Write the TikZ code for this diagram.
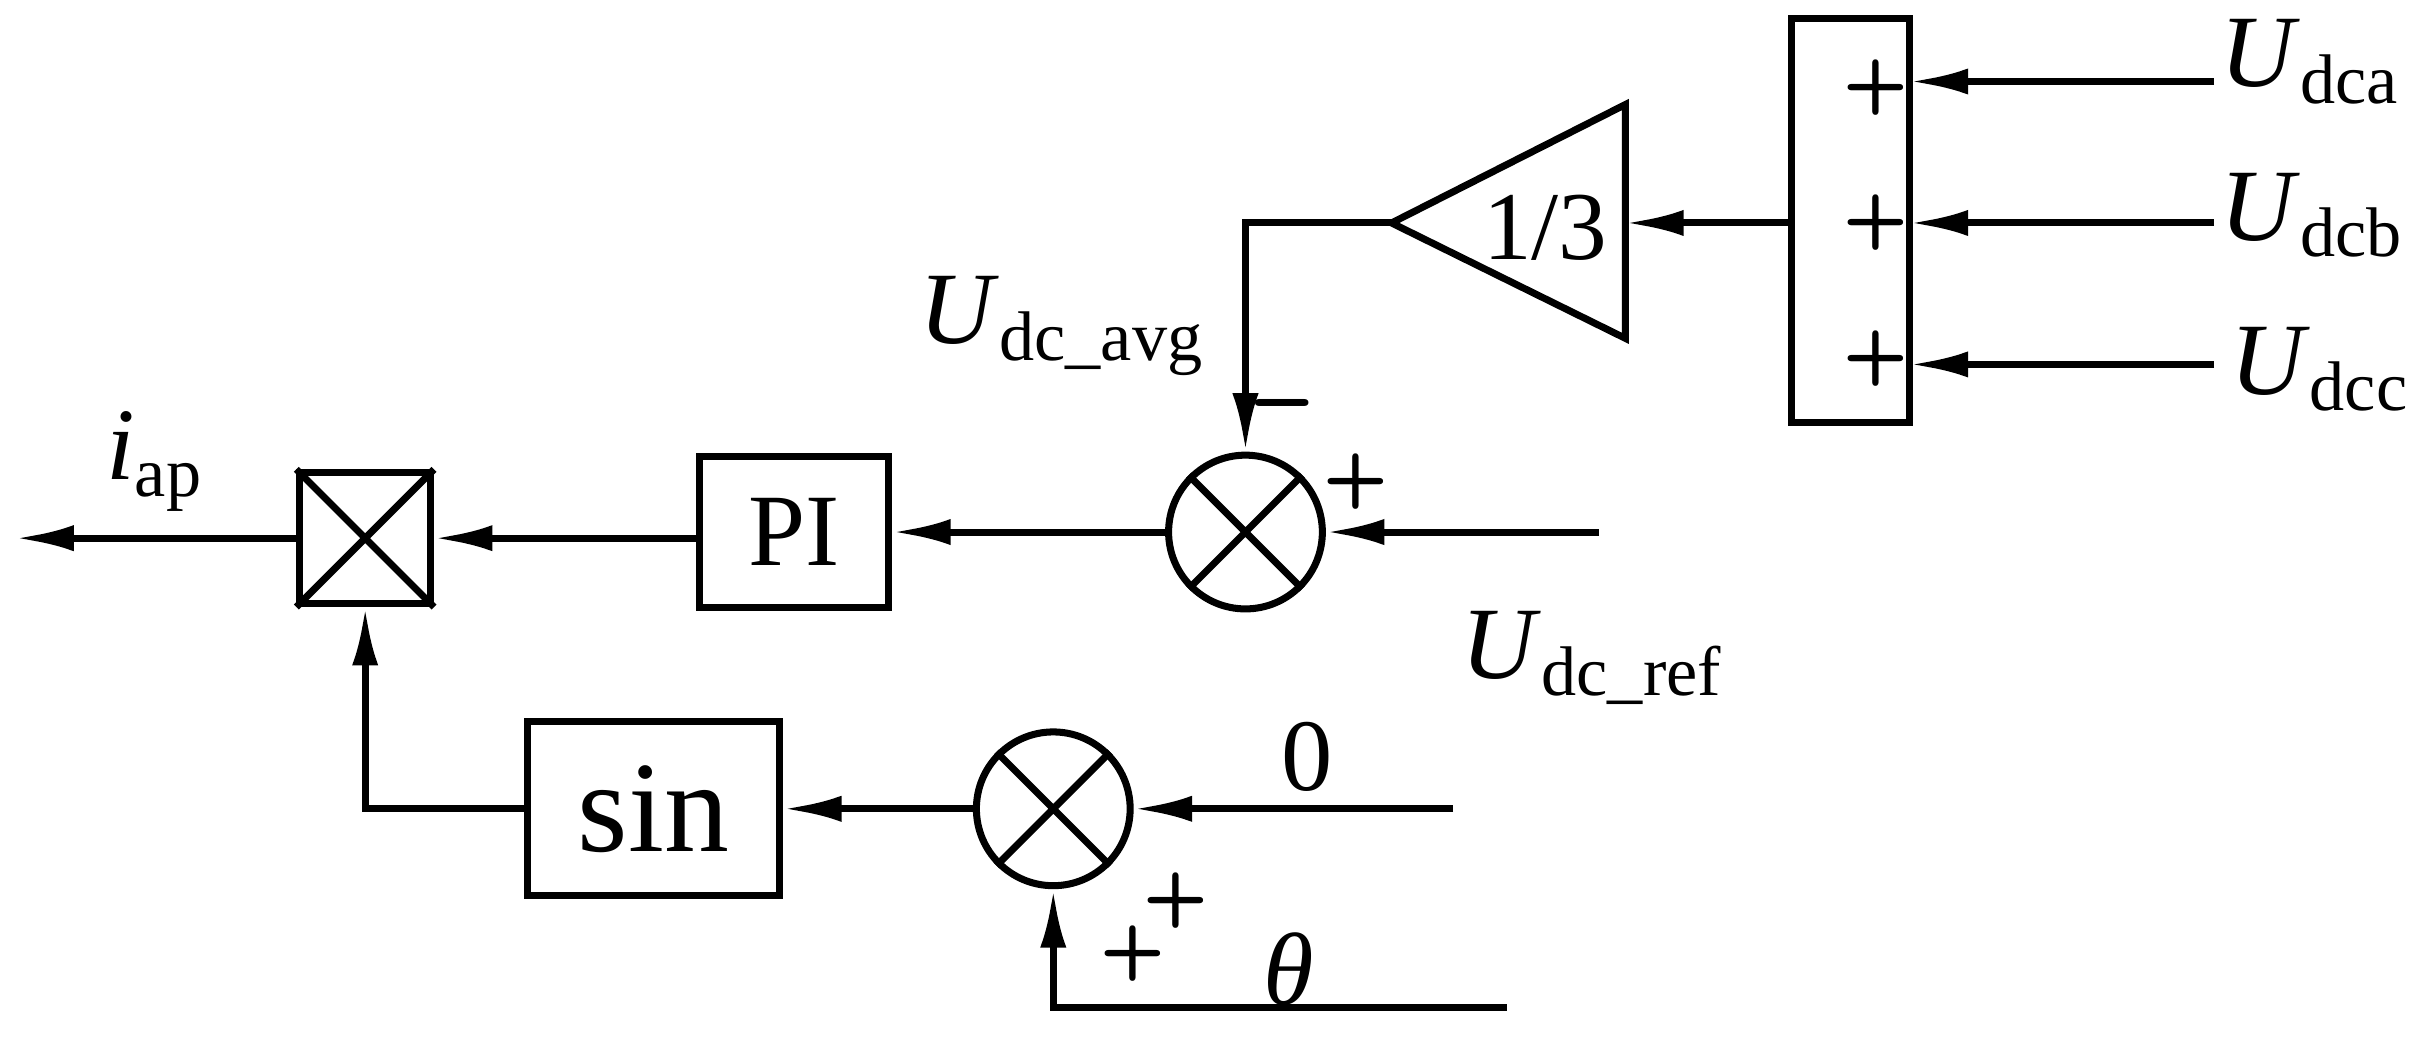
\documentclass[tikz,border=0pt]{standalone}
\usepackage{fontspec}
\setmainfont{Liberation Serif}
\usetikzlibrary{arrows.meta}
\newcommand{\Sub}[2]{\textit{#1}\raisebox{-0.35ex}{\fontsize{13}{14}\selectfont #2}}
\begin{document}
\begin{tikzpicture}[x=0.1mm,y=-0.1mm,line width=1.3pt,
  arr/.style={-{Latex[length=3.8mm,width=1.7mm]}},
  blk/.style={draw,line width=1.3pt},
  lab/.style={font=\fontsize{19}{22}\selectfont,inner sep=0},
  sg/.style={font=\sffamily\bfseries\fontsize{14}{15}\selectfont,inner sep=0}]
\useasboundingbox (0,0) rectangle (1568,680);
% sum box
\node[blk,minimum width=7.7mm,minimum height=26.3mm,inner sep=0] (S) at (1203.5,143.5) {};
\node[sg] (p1) at (1220,57) {+};
\node[sg] (p2) at (1220,145) {+};
\node[sg] (p3) at (1220,233) {+};
\coordinate (ia) at (1440,53); \coordinate (ib) at (1440,145); \coordinate (ic) at (1440,237);
\coordinate (sa) at (1242,53); \coordinate (sb) at (1242,145); \coordinate (sc) at (1242,237);
\draw[arr] (ia) -- (sa);
\draw[arr] (ib) -- (sb);
\draw[arr] (ic) -- (sc);
\node[lab,anchor=west] (la) at (1442,40) {\Sub{U}{dca}};
\node[lab,anchor=west] (lb) at (1442,140) {\Sub{U}{dcb}};
\node[lab,anchor=west] (lc) at (1448,240) {\Sub{U}{dcc}};
% gain triangle
\coordinate (tA) at (905,145); \coordinate (tB) at (1057,68); \coordinate (tC) at (1057,220);
\draw (tA) -- (tB) -- (tC) -- cycle;
\node[font=\fontsize{18}{20}\selectfont,inner sep=0] (g) at (1005,148) {1/3};
\coordinate (tR) at (1057,145); \coordinate (sL) at (1165,145);
\draw[arr] (sL) -- (tR);
% summer 1
\node[draw,circle,minimum size=10mm,inner sep=0] (C1) at (810,346) {};
\draw (C1.45) -- (C1.225) (C1.135) -- (C1.315);
\draw[arr] (tA) -| (C1.north);
\node[lab] (lavg) at (690,212) {\Sub{U}{dc\_avg}};
\node[font=\sffamily\bfseries\fontsize{18}{18}\selectfont,inner sep=0] (mn) at (834,270) {--};
\node[sg] (pp) at (882,313) {+};
\coordinate (ref) at (1040,346);
\draw[arr] (ref) -- (C1.east);
\node[lab] (lref) at (1035,428) {\Sub{U}{dc\_ref}};
% PI
\node[blk,minimum width=12.3mm,minimum height=9.8mm,inner sep=0,font=\fontsize{19}{22}\selectfont] (PI) at (516.5,346) {PI};
\draw[arr] (C1.west) -- (PI.east);
% multiplier
\node[blk,minimum width=8.5mm,minimum height=8.5mm,inner sep=0] (M) at (237.5,350) {};
\draw (M.north west) -- (M.south east) (M.north east) -- (M.south west);
\draw[arr] (PI.west |- M.east) -- (M.east);
\coordinate (out) at (10,350);
\draw[arr] (M.west) -- (out);
\node[lab] (lap) at (100,300) {\Sub{i}{ap}};
% summer 2
\node[draw,circle,minimum size=10mm,inner sep=0] (C2) at (685,526) {};
\draw (C2.45) -- (C2.225) (C2.135) -- (C2.315);
\coordinate (z) at (945,526);
\draw[arr] (z) -- (C2.east);
\node[lab] (l0) at (850,492) {0};
\coordinate (th) at (980,655);
\draw[arr] (th) -| (C2.south);
\node[lab] (lth) at (838,630) {\textit{θ}};
\node[sg] (q1) at (737,620) {+};
\node[sg] (q2) at (765,586) {+};
% sin
\node[blk,minimum width=16.4mm,minimum height=11.3mm,inner sep=0,font=\fontsize{24}{26}\selectfont] (SN) at (425,526) {sin};
\draw[arr] (C2.west) -- (SN.east);
\draw[arr] (SN.west) -| (M.south);
\end{tikzpicture}
\end{document}
